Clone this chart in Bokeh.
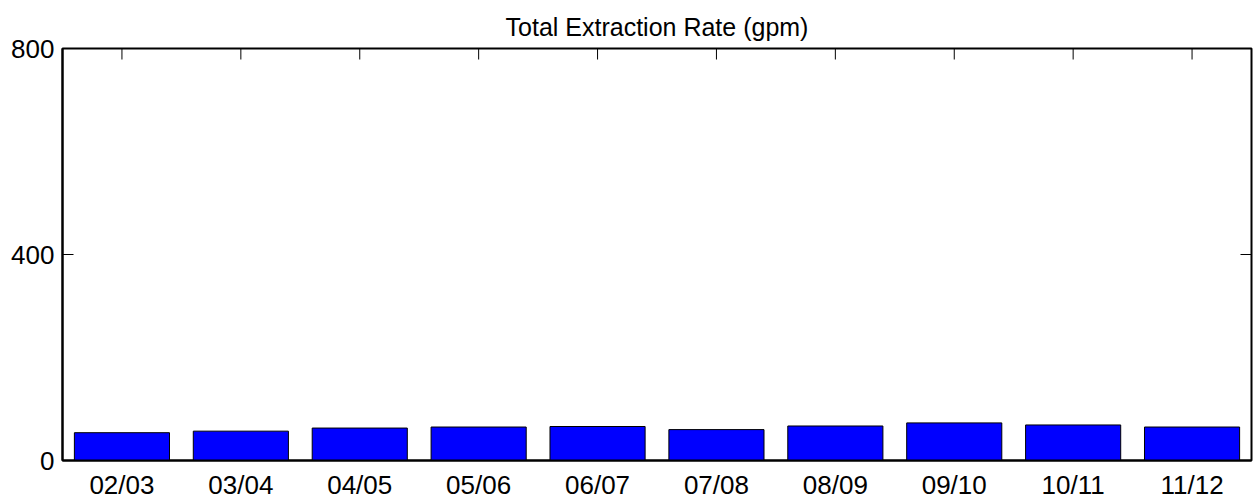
import math
from bokeh.plotting import figure
from bokeh.models import FactorRange, Range1d, FixedTicker, LinearAxis, CategoricalAxis
from bokeh.embed import file_html
from bokeh.resources import INLINE

years = ["02/03", "03/04", "04/05", "05/06", "06/07", "07/08", "08/09", "09/10", "10/11", "11/12"]
rates = [54, 57, 63, 65, 66, 60, 67, 73, 69, 65]
y_ticks = [0, 400, 800]
title_text = "Total Extraction Rate (gpm)"

FONT = "Liberation Sans"
Y_MAX = 800

p = figure(width=1254, height=502, output_backend="svg", toolbar_location=None,
           x_range=FactorRange(factors=years, range_padding=0),
           y_range=Range1d(0, Y_MAX),
           x_axis_type=None, y_axis_type=None,
           min_border_left=62, min_border_right=3, min_border_top=48, min_border_bottom=40)

p.title.text = title_text
p.title.align = "center"
p.title.text_font = FONT
p.title.text_font_size = "25px"
p.title.text_font_style = "normal"
p.title.text_color = "black"
p.title.standoff = 16

p.vbar(x=years, top=rates, width=0.8, fill_color="#0000ff", line_color="black", line_width=1)

# inward ticks on the top and right sides (MATLAB-style box)
p.ray(x=years, y=[Y_MAX] * len(years), length=11, length_units="screen",
      angle=-math.pi / 2, line_color="black", line_width=1)
p.ray(x=[len(years)] * len(y_ticks), y=y_ticks, length=11, length_units="screen",
      angle=math.pi, line_color="black", line_width=1)

p.xgrid.visible = False
p.ygrid.visible = False
p.outline_line_color = "black"
p.outline_line_width = 2
p.background_fill_color = "white"
p.border_fill_color = "white"


def style(ax):
    ax.axis_line_color = "black"
    ax.axis_line_width = 2
    ax.major_tick_in = 11
    ax.major_tick_out = 0
    ax.major_tick_line_color = "black"
    ax.major_tick_line_width = 1
    ax.minor_tick_in = 0
    ax.minor_tick_out = 0
    ax.major_label_text_font = FONT
    ax.major_label_text_color = "black"
    ax.major_label_text_font_size = "26px"


left = LinearAxis(ticker=FixedTicker(ticks=y_ticks))
style(left)
left.major_label_standoff = 8
p.add_layout(left, "left")

bottom = CategoricalAxis()
style(bottom)
bottom.major_tick_in = 0
bottom.major_label_standoff = 9
p.add_layout(bottom, "below")

open("out.html", "w").write(file_html(p, INLINE))
